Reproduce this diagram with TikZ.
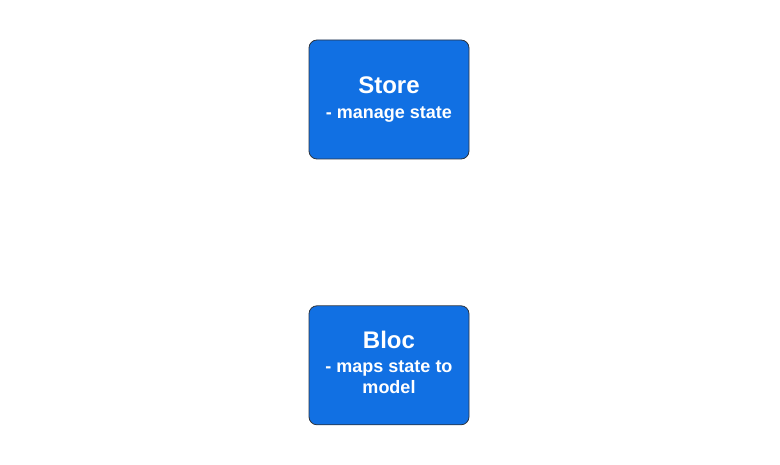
\documentclass[tikz,border=0pt]{standalone}
\usepackage{fontspec}
\setmainfont{Liberation Sans}
\usetikzlibrary{positioning}
\definecolor{boxblue}{HTML}{1170E3}
\definecolor{boxedge}{HTML}{2B3440}

\begin{document}
\begin{tikzpicture}[x=1pt,y=1pt,
  box/.style={draw=boxedge, fill=boxblue, rounded corners=8pt, line width=0.8pt,
    minimum width=160pt, minimum height=119pt, inner sep=0pt,
    text=white, align=center, font=\fontsize{18}{21}\selectfont\bfseries}]
\useasboundingbox (0,0) rectangle (780,-465);

\node[box] (store) at (389,-99.5) {{\fontsize{24}{24}\selectfont Store}\\[4pt]- manage state};
\node[box, below=146pt of store] (bloc) {{\fontsize{24}{24}\selectfont Bloc}\\[3pt]- maps state to\\model\rule[-6pt]{0pt}{6pt}};

\end{tikzpicture}
\end{document}
